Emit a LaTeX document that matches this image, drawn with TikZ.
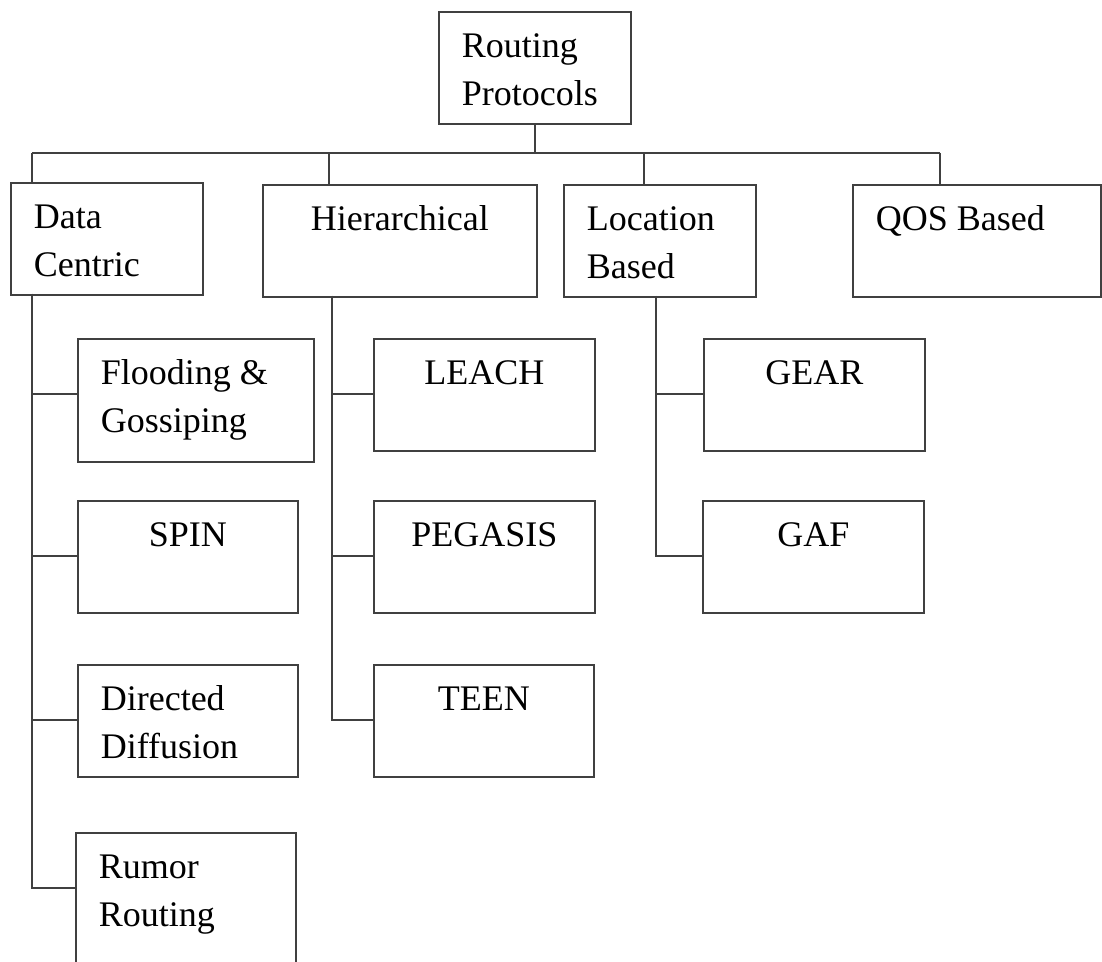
\documentclass[tikz,border=0pt]{standalone}
\usepackage{fontspec}
\setmainfont{Liberation Serif}
\usepackage{tikz}
\usetikzlibrary{positioning, calc}

\begin{document}
\begin{tikzpicture}[
    x=0.5pt, y=-0.5pt,
    box/.style={rectangle, draw=black!75, line width=0.8pt, anchor=north west, inner xsep=11.5pt, inner ysep=0pt, text height=23pt, text depth=33pt, text width=#1, align=flush left, font=\fontsize{18}{24}\selectfont, execute at begin node={\spaceskip=0pt\xspaceskip=0pt}},
    cbox/.style={box=#1, align=center},
    link/.style={draw=black!75, line width=0.8pt}
]
\useasboundingbox (0,0) rectangle (1102,962);

\node[box=73pt] (root) at (438,11) {Routing\\Protocols};
\node[box=73pt] (data) at (10,182) {Data\\Centric};
\node[cbox=114pt] (hier) at (262,184) {Hierarchical};
\node[box=73pt] (loc) at (563,184) {Location\\Based};
\node[box=101pt] (qos) at (852,184) {QOS Based};

\node[box=95pt, text depth=38.5pt] (flood) at (77,338) {Flooding \&\\Gossiping};
\node[cbox=87pt] (spin) at (77,500) {SPIN};
\node[box=87pt] (direct) at (77,664) {Directed\\Diffusion};
\node[box=87pt, text depth=50pt] (rumor) at (75,832) {Rumor\\Routing};

\node[cbox=87.5pt] (leach) at (373,338) {LEACH};
\node[cbox=87.5pt] (pegasis) at (373,500) {PEGASIS};
\node[cbox=87pt] (teen) at (373,664) {TEEN};

\node[cbox=87.5pt] (gear) at (703,338) {GEAR};
\node[cbox=87.5pt] (gaf) at (702,500) {GAF};

% bus under the root
\coordinate (busL) at (32,153);
\coordinate (busR) at (940,153);
\coordinate (hiDrop) at (329,153);
\coordinate (loDrop) at (644,153);
\draw[link] (root.south) -- (root.south |- busL);
\draw[link] (busL) -- (busR);
\draw[link] (busL) -- (busL |- data.north);
\draw[link] (hiDrop) -- (hiDrop |- hier.north);
\draw[link] (loDrop) -- (loDrop |- loc.north);
\draw[link] (busR) -- (busR |- qos.north);

% trunks to the leaves
\coordinate (dcTrunk) at (32,294);
\coordinate (hiTrunk) at (332,296);
\coordinate (loTrunk) at (656,296);
\foreach \c in {flood,spin,direct,rumor}
  \draw[link] (dcTrunk) |- ([yshift=-28pt]\c.north west);
\foreach \c in {leach,pegasis,teen}
  \draw[link] (hiTrunk) |- ([yshift=-28pt]\c.north west);
\foreach \c in {gear,gaf}
  \draw[link] (loTrunk) |- ([yshift=-28pt]\c.north west);
\end{tikzpicture}
\end{document}
